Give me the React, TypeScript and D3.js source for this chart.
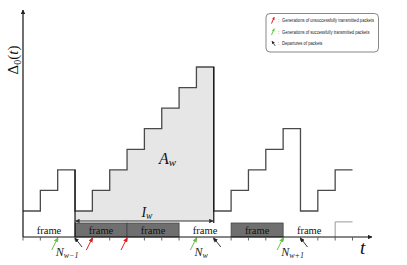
import React from "react";
import * as d3 from "d3";

const W = 407;
const H = 265;

// time slots (tick marks) and the age staircase (level per slot)
const slots = d3.range(0, 20);
const levels = [0, 1, 2, 0, 1, 2, 3, 4, 5, 6, 7, 0, 1, 2, 3, 4, 0, 1, 2];
const frameStarts = [0, 3, 6, 9, 12, 15];
const frameBusy = [false, true, true, false, true, false];
const frameLabel = "frame";
const failedGen = [4, 6];
const successGen = [2, 10, 15];
const departures = [3, 11, 16];
const depSubs = ["w−1", "w", "w+1"];
const areaFrom = 3;
const areaTo = 11;
const nextRise = { t: 18, v: -0.53 };
const legendItems = [
  "Generations of unsuccessfully transmitted packets",
  "Generations of successfully transmitted packets",
  "Departures of packets",
];
const legendColors = ["#e02020", "#6cc04a", "#222"];

export default function App() {
  const x = d3.scaleLinear().domain([0, 19]).range([23, 352.5]);
  const y = d3.scaleLinear().domain([0, 7]).range([211, 67]);
  const axisY = 237;
  const fillBottom = 221;
  const frameTop = 223;

  const pts: [number, number][] = levels.map((v, k) => [k, v]);
  pts.push([levels.length, levels[levels.length - 1]]);
  const line = d3
    .line<[number, number]>()
    .x((d) => x(d[0]))
    .y((d) => y(d[1]))
    .curve(d3.curveStepAfter);

  const areaPts: [number, number][] = [];
  for (let k = areaFrom; k < areaTo; k++) areaPts.push([k, levels[k]]);
  areaPts.push([areaTo, levels[areaTo - 1]]);
  const area = d3
    .area<[number, number]>()
    .x((d) => x(d[0]))
    .y0(fillBottom)
    .y1((d) => y(d[1]))
    .curve(d3.curveStepAfter);

  const serif = "'Liberation Serif', 'DejaVu Serif', serif";
  const sans = "'Liberation Sans', Arial, sans-serif";

  const legendFs = 5.3;
  const legendRowY = [22, 33.5, 45];
  const textStart = 282;
  const boxL = 266;
  const boxR = 378.5;

  return (
    <svg
      width={W}
      height={H}
      style={{ position: "absolute", left: 0, top: 0, background: "#fff" }}
    >
      <defs>
        {[
          ["hr", "#e02020", 4.5],
          ["hg", "#6cc04a", 4.5],
          ["hk", "#222", 4.5],
          ["hd", "#333", 4.5],
          ["sr", "#e02020", 3],
          ["sg", "#6cc04a", 3],
          ["sk", "#222", 3],
        ].map(([id, c, s]) => (
          <marker
            key={id as string}
            id={id as string}
            viewBox="0 0 10 10"
            refX={9}
            refY={5}
            markerWidth={s as number}
            markerHeight={s as number}
            markerUnits="userSpaceOnUse"
            orient="auto-start-reverse"
          >
            <path d="M0,0 L10,5 L0,10 z" fill={c as string} />
          </marker>
        ))}
      </defs>

      {/* shaded area A_w */}
      <path d={area(areaPts) || ""} fill="#e6e6e6" stroke="none" />

      {/* frames */}
      {frameStarts.map((s, i) =>
        frameBusy[i] ? (
          <rect
            key={"fb" + i}
            x={x(s)}
            y={frameTop}
            width={x(s + 3) - x(s)}
            height={axisY - frameTop}
            fill="#6f6f6f"
            stroke="#444"
            strokeWidth={0.8}
          />
        ) : null
      )}
      {frameStarts.map((s, i) => (
        <text
          key={"ft" + i}
          x={(x(s) + x(s + 3)) / 2}
          y={233.5}
          textAnchor="middle"
          fontFamily={serif}
          fontSize={10.5}
          fill="#111"
        >
          {frameLabel}
        </text>
      ))}

      {/* staircase */}
      <path d={line(pts) || ""} fill="none" stroke="#4a4a4a" strokeWidth={1.3} />
      <line
        x1={x(areaFrom)}
        x2={x(areaFrom)}
        y1={y(levels[areaFrom - 1])}
        y2={axisY}
        stroke="#111"
        strokeWidth={1.2}
      />
      <line
        x1={x(areaTo)}
        x2={x(areaTo)}
        y1={y(levels[areaTo - 1])}
        y2={fillBottom + 2}
        stroke="#111"
        strokeWidth={1.2}
      />
      {/* next rise */}
      <path
        d={`M${x(nextRise.t)},${axisY}V${y(nextRise.v)}H${x(19)}`}
        fill="none"
        stroke="#999"
        strokeWidth={1}
      />

      {/* I_w interval arrow */}
      <line
        x1={x(areaFrom) + 0.5}
        x2={x(areaTo) - 0.5}
        y1={fillBottom}
        y2={fillBottom}
        stroke="#333"
        strokeWidth={1}
        markerStart="url(#hd)"
        markerEnd="url(#hd)"
      />
      <text
        x={(x(areaFrom) + x(areaTo)) / 2 - 3}
        y={217}
        fontFamily={serif}
        fontStyle="italic"
        fontSize={14}
        fill="#111"
      >
        I<tspan fontSize={9.5} dy={2}>w</tspan>
      </text>
      <text
        x={159}
        y={164}
        fontFamily={serif}
        fontStyle="italic"
        fontSize={16}
        fill="#111"
      >
        A<tspan fontSize={11} dy={2}>w</tspan>
      </text>

      {/* axes */}
      <line
        x1={x(0)}
        x2={372}
        y1={axisY}
        y2={axisY}
        stroke="#111"
        strokeWidth={1.2}
        markerEnd="url(#hk)"
      />
      <line
        x1={x(0)}
        x2={x(0)}
        y1={axisY}
        y2={10}
        stroke="#111"
        strokeWidth={1.2}
        markerEnd="url(#hk)"
      />
      {slots.map((s) => (
        <line
          key={"tk" + s}
          x1={x(s)}
          x2={x(s)}
          y1={axisY}
          y2={axisY + 3.5}
          stroke="#555"
          strokeWidth={0.9}
        />
      ))}
      <text
        x={360}
        y={254}
        fontFamily={serif}
        fontStyle="italic"
        fontSize={19}
        fill="#111"
      >
        t
      </text>
      <text
        transform={`translate(18,60) rotate(-90)`}
        textAnchor="middle"
        fontFamily={serif}
        fontSize={15}
        fill="#111"
      >
        Δ<tspan fontSize={10} dy={3}>0</tspan>
        <tspan dy={-3}>(</tspan>
        <tspan fontStyle="italic">t</tspan>)
      </text>

      {/* generation arrows */}
      {failedGen.map((t) => (
        <line
          key={"fg" + t}
          x1={x(t) - 6}
          y1={axisY + 13}
          x2={x(t)}
          y2={axisY + 1}
          stroke="#e02020"
          strokeWidth={1}
          markerEnd="url(#hr)"
        />
      ))}
      {successGen.map((t) => (
        <line
          key={"sg" + t}
          x1={x(t) - 6}
          y1={axisY + 13}
          x2={x(t)}
          y2={axisY + 1}
          stroke="#6cc04a"
          strokeWidth={1}
          markerEnd="url(#hg)"
        />
      ))}
      {departures.map((t) => (
        <line
          key={"dp" + t}
          x1={x(t) + 7}
          y1={axisY + 10}
          x2={x(t)}
          y2={axisY + 1}
          stroke="#222"
          strokeWidth={0.9}
          markerEnd="url(#hk)"
        />
      ))}
      {successGen.map((t, i) => (
        <text
          key={"nl" + t}
          x={x(t) - 2}
          y={256}
          fontFamily={serif}
          fontStyle="italic"
          fontSize={12}
          fill="#222"
        >
          N<tspan fontSize={8} dy={2}>{depSubs[i]}</tspan>
        </text>
      ))}

      {/* legend */}
      <rect
        x={boxL}
        y={13.5}
        width={boxR - boxL}
        height={38.5}
        rx={4}
        fill="#fff"
        stroke="#555"
        strokeWidth={0.7}
      />
      {legendItems.map((s, i) => {
        const yy = legendRowY[i];
        const ix = textStart - 9;
        return (
          <g key={"lg" + i}>
            {i < 2 ? (
              <line
                x1={ix - 1.5}
                y1={yy + 1.5}
                x2={ix + 1.2}
                y2={yy - 4.8}
                stroke={legendColors[i]}
                strokeWidth={1}
                markerEnd={i === 0 ? "url(#sr)" : "url(#sg)"}
              />
            ) : (
              <line
                x1={ix + 2.2}
                y1={yy + 0.8}
                x2={ix - 1}
                y2={yy - 3.8}
                stroke={legendColors[i]}
                strokeWidth={0.8}
                markerEnd="url(#sk)"
              />
            )}
            <text
              x={textStart - 4}
              y={yy}
              fontFamily={sans}
              fontSize={legendFs}
              fill="#222"
            >
              :
            </text>
            <text
              transform={`translate(${textStart},${yy}) scale(0.78,1)`}
              fontFamily={sans}
              fontSize={legendFs}
              fill="#222"
            >
              {s}
            </text>
          </g>
        );
      })}
    </svg>
  );
}
